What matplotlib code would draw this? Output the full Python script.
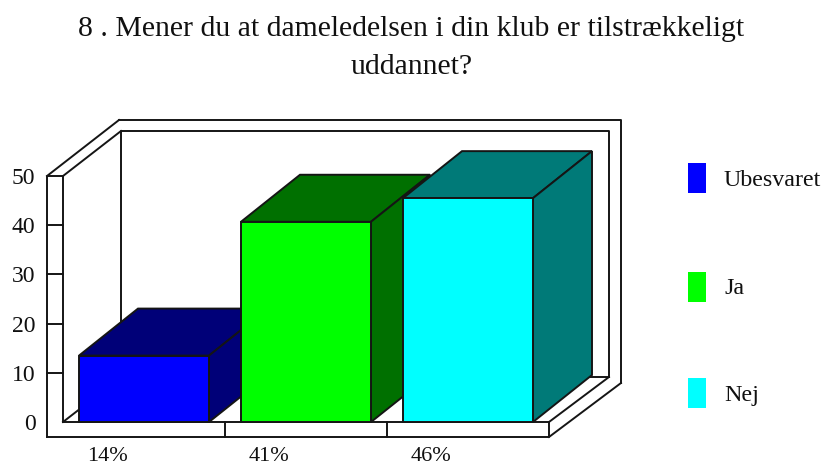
import matplotlib
matplotlib.use("Agg")
import matplotlib.pyplot as plt
from matplotlib.patches import Polygon, Rectangle

# =====================
# DATA
# =====================
categories = ["Ubesvaret", "Ja", "Nej"]
values = [13.5, 40.7, 45.5]
pct_labels = ["14%", "41%", "46%"]
y_ticks = [0, 10, 20, 30, 40, 50]
title_lines = ["8 . Mener du at dameledelsen i din klub er tilstrækkeligt", "uddannet?"]

front_colors = ["#0000ff", "#00ff00", "#00ffff"]
dark_colors = ["#000078", "#007000", "#007a78"]

# =====================
# CONFIG
# =====================
W, H = 823, 465
PX_PER_UNIT = 4.92
Y0_PX = 422
FONT = "Liberation Serif"
LW = 1.4
EDGE = "#151515"
TEXT = "#101010"

BAR_LEFT = 79
BAR_STEP = 162
BAR_W = 130
DEPTH_X = 59
DEPTH_Y = 47 / PX_PER_UNIT

plt.rcParams["font.family"] = FONT

fig = plt.figure(figsize=(W / 100, H / 100), dpi=100)
ax = fig.add_axes([0, 0, 1, 1])
ax.set_xlim(0, W)
ax.set_ylim((Y0_PX - H) / PX_PER_UNIT, Y0_PX / PX_PER_UNIT)
ax.axis("off")


def py(px):
    # pixel row to value scale
    return (Y0_PX - px) / PX_PER_UNIT


def line(xs, ys):
    ax.plot(xs, [py(v) for v in ys], color=EDGE, lw=LW, solid_capstyle="projecting", zorder=2)


# =====================
# FRAME
# =====================
# back wall
line([121, 121, 609, 609], [377, 131, 131, 377])
line([119, 621, 621], [120, 120, 383])
line([121, 609], [377, 377])
# left wall
line([47, 47, 63, 63], [437, 176, 176, 422])
line([47, 119], [176, 120])
line([63, 121], [176, 131])
line([63, 121], [422, 377])
for t in y_ticks[1:-1]:
    ax.plot([47, 63], [t, t], color=EDGE, lw=LW, zorder=2)
# floor
line([47, 549, 549], [437, 437, 422])
line([63, 549], [422, 422])
line([549, 609], [422, 377])
line([549, 621], [437, 383])
for i in [1, 2]:
    tick_x = BAR_LEFT - 16 + i * BAR_STEP
    line([tick_x, tick_x], [422, 437])

# =====================
# BARS
# =====================
for i, v in enumerate(values):
    x0 = BAR_LEFT + i * BAR_STEP
    x1 = x0 + BAR_W
    z = 3 + i
    top = [(x0, v), (x1, v), (x1 + DEPTH_X, v + DEPTH_Y), (x0 + DEPTH_X, v + DEPTH_Y)]
    side = [(x1, 0), (x1, v), (x1 + DEPTH_X, v + DEPTH_Y), (x1 + DEPTH_X, DEPTH_Y)]
    ax.add_patch(Polygon(top, closed=True, fc=dark_colors[i], ec=EDGE, lw=LW, zorder=z))
    ax.add_patch(Polygon(side, closed=True, fc=dark_colors[i], ec=EDGE, lw=LW, zorder=z))
    ax.bar(x0, v, width=BAR_W, align="edge", color=front_colors[i], edgecolor=EDGE, lw=LW, zorder=z)
    ax.text(x0 + 28.5, py(461), pct_labels[i], ha="center", va="baseline", fontsize=16, color=TEXT)

# =====================
# TEXT + LEGEND
# =====================
for t in y_ticks:
    ax.text(35.5, py(Y0_PX - t * PX_PER_UNIT + 8), str(t), ha="right", va="baseline", fontsize=17, color=TEXT)

ax.text(411.5, py(36), title_lines[0], ha="center", va="baseline", fontsize=21.4, color=TEXT)
ax.text(411.5, py(74), title_lines[1], ha="center", va="baseline", fontsize=21.4, color=TEXT)

legend_tops = [163, 271.5, 378]
for name, c, top_px in zip(categories, front_colors, legend_tops):
    ax.add_patch(Rectangle((688, py(top_px + 30)), 18, 30 / PX_PER_UNIT, fc=c, ec="none", zorder=2))
    ax.text(724, py(top_px + 23), name, ha="left", va="baseline", fontsize=17.3, color=TEXT)

fig.savefig("out.png", dpi=100)
